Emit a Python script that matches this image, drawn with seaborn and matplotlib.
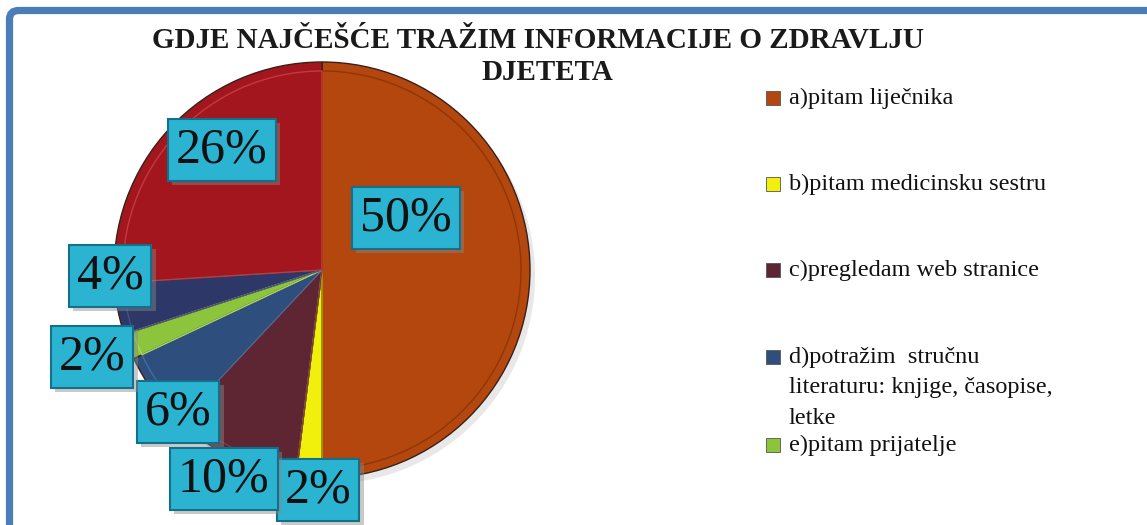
import matplotlib
matplotlib.use("Agg")
import matplotlib.pyplot as plt
import matplotlib.patheffects as pe
from matplotlib.patches import FancyBboxPatch
import seaborn as sns

# ---- data ----
title_lines = ["GDJE NAJČEŠĆE TRAŽIM INFORMACIJE O ZDRAVLJU", "DJETETA"]
categories = [
    "a)pitam liječnika",
    "b)pitam medicinsku sestru",
    "c)pregledam web stranice",
    "d)potražim  stručnu\nliteraturu: knjige, časopise,\nletke",
    "e)pitam prijatelje",
    "f)",
    "g)",
]
values = [50, 2, 10, 6, 2, 4, 26]
colors = ["#B4470E", "#F0F00C", "#5E2633", "#2E4E7E", "#8CC43C", "#2E3868", "#A3161D"]
bevel = ["#8E3608", "#B8B800", "#7A3B47", "#4A6B9A", "#A8D862", "#46507E", "#C23A40"]
legend_count = 5

sns.set_theme(style="white")
plt.rcParams["font.family"] = ["Liberation Serif", "DejaVu Serif"]

W, H = 1147, 525
fig = plt.figure(figsize=(W / 100, H / 100), dpi=100)
fig.patch.set_facecolor("white")
ax = fig.add_axes([0, 0, 1, 1])

cx, cy, R = 322, 255, 208

# soft shadow
ax.pie([1], radius=R, center=(cx + 5, cy - 6), colors=["#d9d9d9"],
       wedgeprops=dict(linewidth=0, alpha=0.6), startangle=90)
# main pie
wedges, _ = ax.pie(values, radius=R, center=(cx, cy), colors=colors,
                   startangle=90, counterclock=False,
                   wedgeprops=dict(edgecolor="#3a1f18", linewidth=1.0))
# bevel lines
inner, _ = ax.pie(values, radius=R - 9, center=(cx, cy), startangle=90,
                  counterclock=False, wedgeprops=dict(linewidth=1.0))
for w, bc in zip(inner, bevel):
    w.set_facecolor("none")
    w.set_edgecolor(bc)

ax.set_xlim(0, W)
ax.set_ylim(0, H)
ax.set_aspect("auto")
ax.axis("off")

# percentage label boxes (positions in pixel space)
label_pos = [(406, 307), (318, 35), (224, 46), (178, 113), (92, 168), (110, 249), (222, 375)]
for v, (lx, ly) in zip(values, label_pos):
    t = ax.text(lx, ly, f"{v}%", ha="center", va="center", fontsize=36,
                color="#111111", zorder=10,
                bbox=dict(boxstyle="square,pad=0.16", facecolor="#2AB4D2",
                          edgecolor="#14708A", linewidth=1.5))
    t.get_bbox_patch().set_path_effects([
        pe.SimplePatchShadow(offset=(3, -3), shadow_rgbFace="#888888", alpha=0.45),
        pe.Normal()])

# title
ax.text(538, H - 40, title_lines[0], ha="center", va="center", fontsize=21,
        fontweight="bold", color="#1a1a1a")
ax.text(547, H - 73, title_lines[1], ha="center", va="center", fontsize=21,
        fontweight="bold", color="#1a1a1a")

# legend (manual)
leg_y = [98, 184, 270, 357, 445]
line_step = 30.5
for cat, col, y in zip(categories[:legend_count], colors, leg_y):
    ax.scatter([773], [H - y], marker="s", s=100, color=col, edgecolor="#555555",
               linewidth=0.6, zorder=5)
    for i, line in enumerate(cat.split("\n")):
        ax.text(789, H - y - i * line_step, line, ha="left", va="center",
                fontsize=17.5, color="#111111")

# frame
frame = FancyBboxPatch((9.5, -30), 1180, H - 10.5 + 30,
                       boxstyle="round,pad=0,rounding_size=9",
                       facecolor="none", edgecolor="#4A7EBB", linewidth=5.2,
                       transform=ax.transData, clip_on=True, zorder=20)
ax.add_patch(frame)

fig.savefig("out.png", dpi=100, facecolor="white")
